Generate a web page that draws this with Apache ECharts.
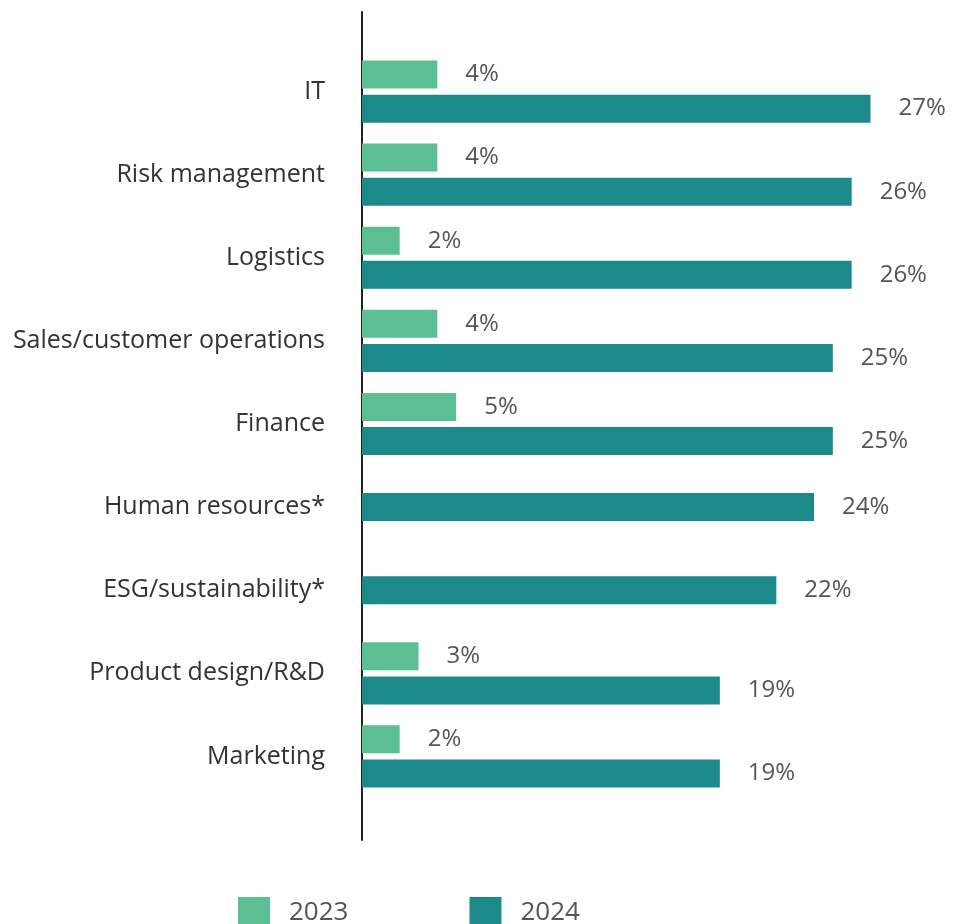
<!DOCTYPE html>
<html>
<head>
<meta charset="utf-8">
<script src="https://cdn.jsdelivr.net/npm/echarts@6/dist/echarts.min.js"></script>
<style>
  html, body { margin: 0; padding: 0; background: #fff; }
  #chart { width: 956px; height: 924px; }
</style>
</head>
<body>
<div id="chart"></div>
<script>
const categories = ['IT', 'Risk management', 'Logistics', 'Sales/customer operations', 'Finance',
  'Human resources*', 'ESG/sustainability*', 'Product design/R&D', 'Marketing']
const values2023 = [4, 4, 2, 4, 5, null, null, 3, 2]
const values2024 = [27, 26, 26, 25, 25, 24, 22, 19, 19]
// categories with no 2023 value get a single centred 2024 bar
const hasBoth = values2023.map(v => v != null)

const green = '#5bbf93'
const teal = '#1c8a8a'
const font = 'Open Sans'

const chart = echarts.init(document.getElementById('chart'))

const label = {
  show: true,
  position: 'right',
  distance: 28,
  formatter: '{c}%',
  color: '#555',
  fontSize: 24,
  fontFamily: font
}

chart.setOption({
  animation: false,
  grid: [
    { left: 362, top: 50, width: 565, height: 748 },
    // only carries the long vertical axis line
    { left: 362, top: 12, width: 565, height: 828 }
  ],
  xAxis: [
    { gridIndex: 0, type: 'value', min: 0, max: 30, show: false },
    { gridIndex: 1, type: 'value', min: 0, max: 30, show: false }
  ],
  yAxis: [
    {
      gridIndex: 0,
      type: 'category',
      inverse: true,
      data: categories,
      axisLine: { show: false },
      axisTick: { show: false },
      axisLabel: { color: '#333', fontSize: 25, fontFamily: font, margin: 37 }
    },
    {
      gridIndex: 0,
      type: 'category',
      inverse: true,
      data: categories,
      show: false
    },
    {
      gridIndex: 1,
      type: 'value',
      min: 0,
      max: 1,
      axisLine: { show: true, lineStyle: { color: '#222', width: 2 } },
      axisTick: { show: false },
      axisLabel: { show: false },
      splitLine: { show: false }
    }
  ],
  legend: {
    data: ['2023', '2024'],
    left: 233,
    top: 892,
    itemWidth: 32,
    itemHeight: 32,
    itemGap: 121,
    icon: 'rect',
    textStyle: { color: '#555', fontSize: 26, fontFamily: font, padding: [0, 0, 0, 14] }
  },
  series: [
    {
      name: '2023',
      type: 'bar',
      xAxisIndex: 0,
      yAxisIndex: 0,
      barWidth: 28,
      barGap: '22%',
      itemStyle: { color: green },
      label: label,
      data: values2023
    },
    {
      name: '2024',
      type: 'bar',
      xAxisIndex: 0,
      yAxisIndex: 0,
      barWidth: 28,
      itemStyle: { color: teal },
      label: label,
      data: values2024.map((v, i) => hasBoth[i] ? v : null)
    },
    {
      name: '2024',
      type: 'bar',
      xAxisIndex: 0,
      yAxisIndex: 1,
      barWidth: 28,
      itemStyle: { color: teal },
      label: label,
      data: values2024.map((v, i) => hasBoth[i] ? null : v)
    }
  ]
})
</script>
</body>
</html>
